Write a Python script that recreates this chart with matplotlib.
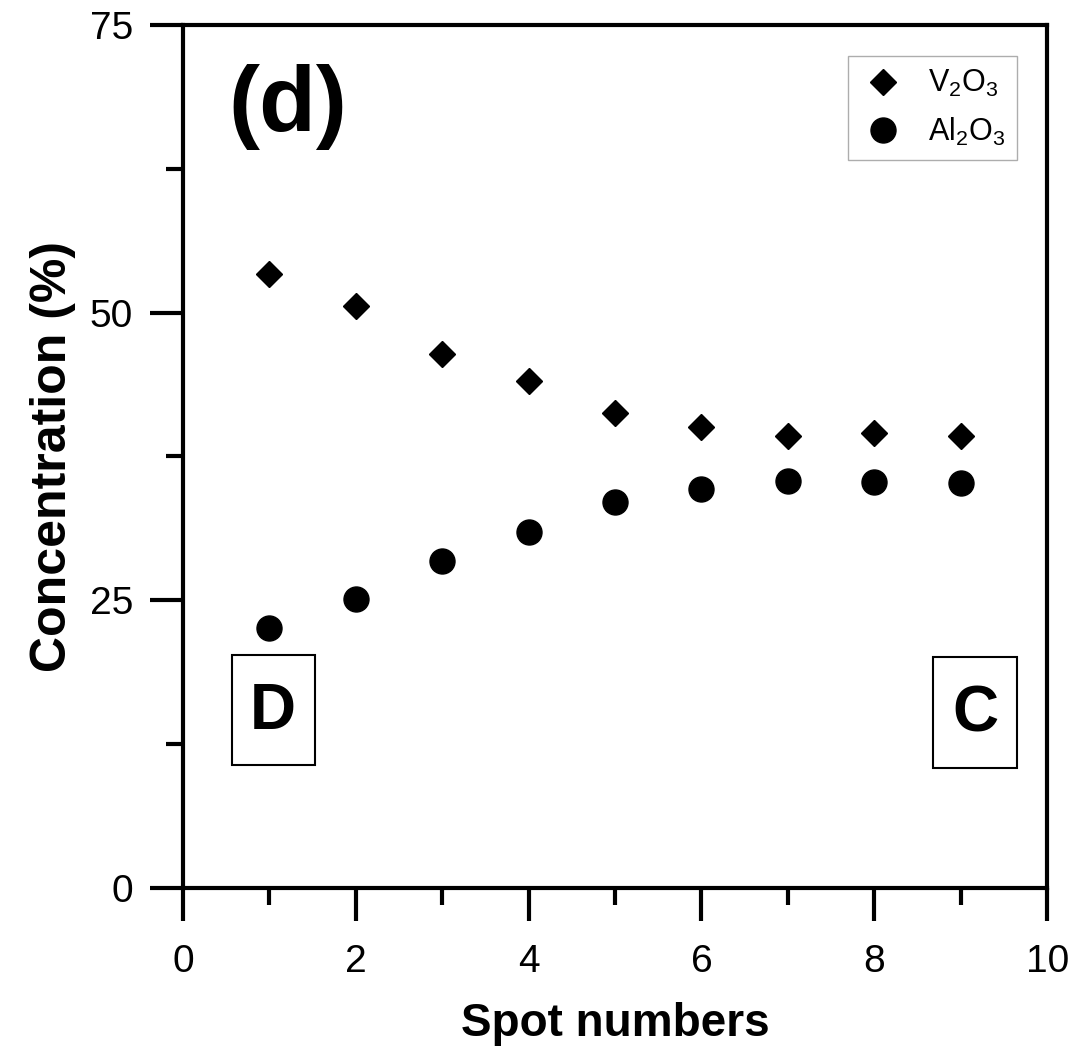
import numpy as np
import matplotlib
matplotlib.use('Agg')
import matplotlib.pyplot as plt
from matplotlib.ticker import MultipleLocator
from matplotlib.patches import Rectangle

plt.rcParams['font.family'] = ['Liberation Sans', 'DejaVu Sans']
plt.rcParams['mathtext.fontset'] = 'custom'
plt.rcParams['mathtext.rm'] = 'Liberation Sans'

spots = [1, 2, 3, 4, 5, 6, 7, 8, 9]
v2o3 = [53.4, 50.6, 46.4, 44.1, 41.3, 40.1, 39.3, 39.5, 39.3]
al2o3 = [22.6, 25.1, 28.4, 30.9, 33.5, 34.7, 35.4, 35.3, 35.2]

fig = plt.figure(figsize=(10.74, 10.49), dpi=100)
ax = fig.add_axes([0.1704, 0.1535, 0.8046, 0.8227])

ax.plot(spots, v2o3, 'D', color='black', markersize=13, linestyle='none',
        label=r'V$_\mathregular{2}$O$_\mathregular{3}$')
ax.plot(spots, al2o3, 'o', color='black', markersize=18, linestyle='none',
        label=r'Al$_\mathregular{2}$O$_\mathregular{3}$')

ax.set_xlim(0, 10)
ax.set_ylim(0, 75)
ax.xaxis.set_major_locator(MultipleLocator(2))
ax.xaxis.set_minor_locator(MultipleLocator(1))
ax.yaxis.set_major_locator(MultipleLocator(25))
ax.yaxis.set_minor_locator(MultipleLocator(12.5))

for s in ax.spines.values():
    s.set_linewidth(3)
ax.tick_params(which='major', direction='out', length=24, width=3, labelsize=28)
ax.tick_params(axis='x', which='major', pad=16)
ax.tick_params(axis='y', which='major', pad=12)
ax.tick_params(which='minor', direction='out', length=12, width=3)
ax.tick_params(top=False, right=False, which='both')

ax.set_xlabel('Spot numbers', fontsize=33, fontweight='bold', labelpad=16)
ax.set_ylabel('Concentration (%)', fontsize=36, fontweight='bold', labelpad=10)

ax.text(1.21, 67.9, '(d)', fontsize=67, fontweight='bold', ha='center', va='center')

# boxed end labels
ax.add_patch(Rectangle((0.567, 10.69), 0.961, 9.56, fill=False, edgecolor='black',
                       linewidth=1.5, zorder=3))
ax.add_patch(Rectangle((8.68, 10.43), 0.97, 9.64, fill=False, edgecolor='black',
                       linewidth=1.5, zorder=3))
ax.text(1.035, 15.3, 'D', fontsize=46, fontweight='bold', ha='center', va='center')
ax.text(9.17, 15.1, 'C', fontsize=46, fontweight='bold', ha='center', va='center')

leg = ax.legend(loc='upper right', bbox_to_anchor=(0.965, 0.964), borderaxespad=0,
                fontsize=22, frameon=True, fancybox=False, handletextpad=0.7,
                borderpad=0.4, labelspacing=0.55, handlelength=1.5)
leg.get_frame().set_edgecolor('#999999')
leg.get_frame().set_linewidth(1)

fig.savefig('out.png', dpi=100)
